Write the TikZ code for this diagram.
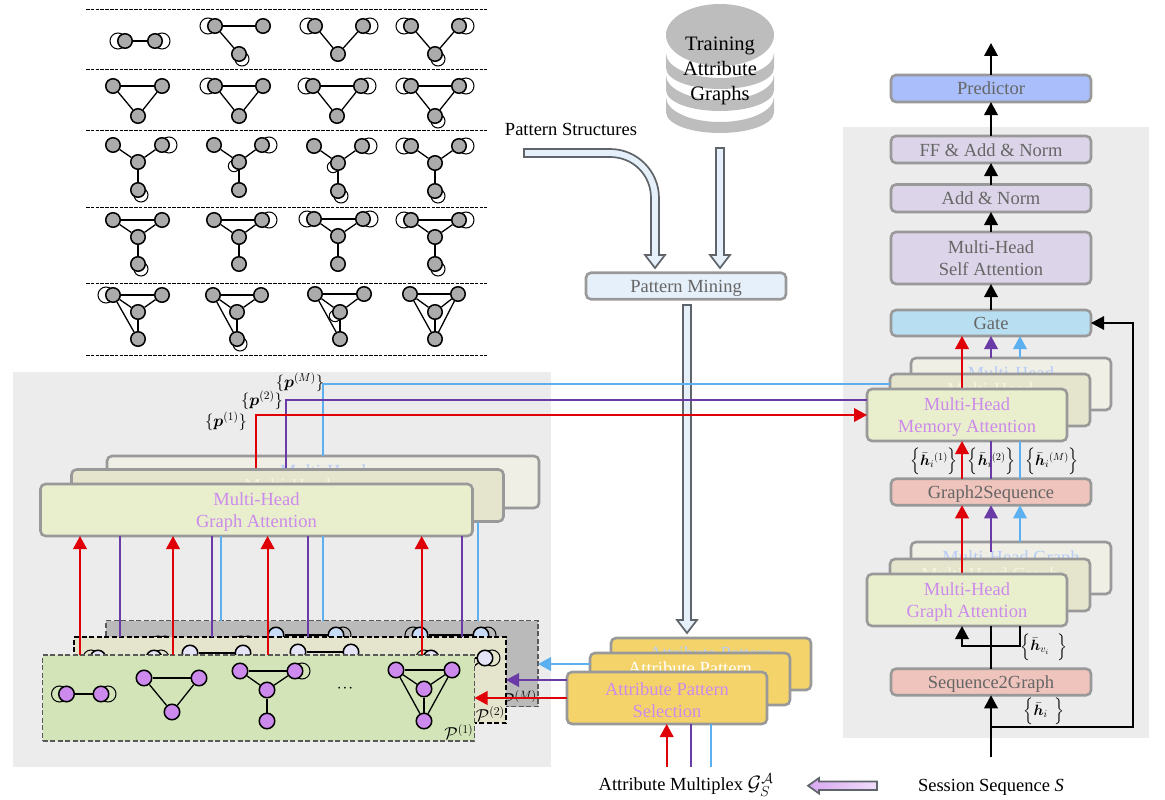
\documentclass[tikz,border=0pt]{standalone}
\usepackage{amsmath}
\usepackage{fontspec}
\setmainfont{Liberation Serif}
\usepackage{tikz}
\usetikzlibrary{arrows.meta, positioning, shapes.geometric}

\definecolor{bgGray}{HTML}{ECECEC}
\definecolor{boxGray}{HTML}{999999}
\definecolor{txtGray}{HTML}{666666}
\definecolor{fatGray}{HTML}{5E646A}
\definecolor{lineRed}{HTML}{E00008}
\definecolor{linePur}{HTML}{6A3AA6}
\definecolor{lineBlu}{HTML}{5CB0F0}
\definecolor{txtPur}{HTML}{CC8AEC}
\definecolor{txtPale}{HTML}{B8CCF6}
\definecolor{txtCream}{HTML}{F6F6E0}
\definecolor{fatFill}{HTML}{E6F0FA}
\definecolor{fillBack}{HTML}{EFEFE6}
\definecolor{fillMid}{HTML}{E5E4CC}
\definecolor{fillFront}{HTML}{E9EFCC}
\definecolor{fillAttr}{HTML}{F4D46A}
\definecolor{fillPink}{HTML}{EEC4BC}
\definecolor{fillLav}{HTML}{DCD4E8}
\definecolor{fillGate}{HTML}{B8DEF2}
\definecolor{fillPred}{HTML}{A9BEFA}
\definecolor{panGreen}{HTML}{D2E4B8}
\definecolor{patBlue}{HTML}{C8DCF8}
\definecolor{patLav}{HTML}{E4E4F6}

% one small pattern: name, node style, nodes, edges, self loops
\newcommand{\motif}[5]{%
    \foreach \n/\x/\y in {#3} \coordinate (#1\n) at (\x,\y);
    \foreach \n/\dx/\dy/\r in {#5} \draw[patloop] ([shift={(\dx,\dy)}]#1\n) circle (\r);
    \foreach \n/\x/\y in {#3} \node[#2] (#1\n) at (\x,\y) {};
    \foreach \s/\t in {#4} \draw[patedge] (#1\s) -- (#1\t);
}
% hollow arrow pointing down, between two named points
\newcommand{\fatdown}[2]{%
    \draw[fatline, fill=fatFill] ([xshift=-4pt]#1) -- ([xshift=-4pt,yshift=13pt]#2) -- ([xshift=-10pt,yshift=13pt]#2)
        -- (#2) -- ([xshift=10pt,yshift=13pt]#2) -- ([xshift=4pt,yshift=13pt]#2) -- ([xshift=4pt]#1) -- cycle;
}
% first line lowered a little, second line of a box whose lower half is covered
\newcommand{\topline}{\rule{0pt}{17pt}}
\newcommand{\coveredline}{\rule[-4pt]{0pt}{5pt}}

\begin{document}
\begin{tikzpicture}[
        x=1pt, y=-1pt,
        mainfont/.style={font=\fontsize{18.5}{22}\selectfont},
        box/.style={
            rectangle, rounded corners=5pt, draw=boxGray, line width=2.6pt, outer sep=0pt, inner sep=0pt,
            align=center, mainfont, text=txtGray
        },
        barbox/.style={box, minimum width=200pt, minimum height=26.5pt, text height=15pt, text depth=2pt},
        stackbox/.style={box, minimum width=200pt, minimum height=52pt},
        gatbox/.style={box, minimum width=432pt, minimum height=52pt},
        txtA/.style={text=txtPur},
        txtB/.style={text=txtCream},
        txtC/.style={text=txtPale},
        panel/.style={rectangle, draw=black!65, dash pattern=on 5pt off 2.5pt, line width=1.3pt, minimum width=432pt, minimum height=86pt, outer sep=0pt},
        patlabel/.style={font=\fontsize{17.28}{20}\selectfont, inner sep=1pt, anchor=south east},
        patnode/.style={circle, draw=black, line width=1.5pt, fill=black!33, minimum size=14.5pt, inner sep=0pt},
        patA/.style={patnode, fill=txtPur, minimum size=15.5pt},
        patB/.style={patnode, fill=patLav, minimum size=15.5pt},
        patC/.style={patnode, fill=patBlue, minimum size=15.5pt},
        patedge/.style={draw=black, line width=1.3pt},
        patloop/.style={draw=black, line width=1pt},
        sepline/.style={draw=black, dash pattern=on 3.5pt off 1.3pt, line width=1pt},
        fatline/.style={draw=fatGray, line width=1.7pt, line join=miter},
        tip/.style={-{Triangle[width=13.5pt,length=13pt]}},
        blackline/.style={draw=black, line width=2pt},
        redline/.style={draw=lineRed, line width=2.1pt},
        purline/.style={draw=linePur, line width=2pt},
        bluline/.style={draw=lineBlu, line width=2pt},
        plain/.style={mainfont, inner sep=0pt},
        mathlabel/.style={font=\fontsize{14.4}{16}\selectfont, inner sep=0pt, scale=1.15, transform shape},
        hlabel/.style={mathlabel, scale=0.9}
    ]
    \useasboundingbox (0,0) rectangle (1165,800);

    % Grey panels
    \fill[bgGray] (13,372) rectangle (551,767);
    \fill[bgGray] (843,127) rectangle (1149,738);

    % Pattern table
    \foreach \y in {10,70,130.5,207,283.5,355} \draw[sepline] (86,\y) -- (487,\y);

    \motif{mA}{patnode}{a/125/41,b/155/41}{a/b}{a/-7/0/8,b/7/0/8}
    \motif{mB}{patnode}{a/215/26,b/263/26,c/239/54}{a/b,a/c}{a/-7/0/8,c/3/5/7}
    \motif{mC}{patnode}{a/315/26,b/363/26,c/338/54}{a/c,b/c}{a/-7/0/8,b/7/0/8}
    \motif{mD}{patnode}{a/411/26,b/459/26,c/435/54}{a/c,b/c}{a/-7/0/8,b/7/0/8,c/3/5/7}

    \motif{mE}{patnode}{a/113/86,b/162/86,c/138/116}{a/b,a/c,b/c}{}
    \motif{mF}{patnode}{a/215/86,b/263/86,c/239/116}{a/b,a/c,b/c}{a/-7/0/8}
    \motif{mG}{patnode}{a/313/86,b/361/86,c/337/116}{a/b,a/c,b/c}{a/-7/0/8,b/7/0/8}
    \motif{mH}{patnode}{a/411/86,b/459/86,c/435/116}{a/b,a/c,b/c}{a/-7/0/8,b/7/0/8,c/3/5/7}

    \motif{mI}{patnode}{a/113/145,b/162/145,m/138/162,c/138/190}{a/m,b/m,m/c}{b/7/0/8,c/3/5/7}
    \motif{mJ}{patnode}{a/214/145,b/262/145,m/239/162,c/239/190}{a/m,b/m,m/c}{b/7/0/8,m/-5/4/5.7}
    \motif{mK}{patnode}{a/314/146,b/362/146,m/338/163,c/338/191}{a/m,b/m,m/c}{b/7/0/8,m/-5/4/5.7,c/3/5/7}
    \motif{mL}{patnode}{a/411/146,b/459/146,m/435/163,c/435/191}{a/m,b/m,m/c}{a/-7/0/8,b/7/0/8,c/3/5/7}

    \motif{mM}{patnode}{a/113/220,b/162/220,m/138/237,c/138/264}{a/b,a/m,b/m,m/c}{c/3/5/7}
    \motif{mN}{patnode}{a/214/220,b/262/220,m/239/237,c/239/264}{a/b,a/m,b/m,m/c}{b/7/0/8}
    \motif{mO}{patnode}{a/314/219,b/363/219,m/338/236,c/338/264}{a/b,a/m,b/m,m/c}{a/-7/0/8,b/7/0/8}
    \motif{mP}{patnode}{a/411/220,b/459/220,m/435/237,c/435/264}{a/b,a/m,b/m,m/c}{a/-7/0/8,b/7/0/8,c/3/5/7}

    \motif{mQ}{patnode}{a/113/295,b/162/295,m/138/312,c/138/339}{a/b,a/m,b/m,m/c,a/c}{a/-7/0/8}
    \motif{mR}{patnode}{a/213/295,b/261/295,m/237/312,c/237/339}{a/b,a/m,b/m,m/c,a/c}{c/3/5/7}
    \motif{mS}{patnode}{a/315/294,b/364/294,m/340/312,c/340/339}{a/b,a/m,b/m,m/c,a/c}{m/-5/4/5.7}
    \motif{mT}{patnode}{a/410/294,b/458/294,m/435/312,c/435/339}{a/b,a/m,b/m,m/c,a/c,b/c}{}

    % Training data and mining
    \foreach \dy in {0,22,44} {
        \fill[black!26] (666,53+\dy) -- (666,68+\dy) .. controls (666,80+\dy) and (690,89+\dy) .. (720,89+\dy)
            .. controls (750,89+\dy) and (774,80+\dy) .. (774,68+\dy) -- (774,53+\dy)
            .. controls (774,67+\dy) and (750,78+\dy) .. (720,78+\dy)
            .. controls (690,78+\dy) and (666,67+\dy) .. (666,53+\dy) -- cycle;
    }
    \node[ellipse, fill=black!26, minimum width=108pt, minimum height=62pt, inner sep=0pt] (dbtop) at (720,35) {};
    \node[plain, align=center, font=\fontsize{20.5}{25}\selectfont] (db) at (720,71) {Training\\Attribute\\Graphs};

    \node[plain] (patstr) at (571,129) {Pattern Structures};
    \node[barbox, fill=fatFill] (mine) at (686,286) {Pattern Mining};

    % Right column
    \node[barbox, fill=fillGate, minimum height=26pt] (gate) at (991,323) {Gate};
    \node[stackbox, fill=fillLav] (msa) [above=26pt of gate] {Multi-Head\\Self Attention};
    \node[barbox, fill=fillLav, minimum height=27.5pt] (addn) [above=20pt of msa] {Add \& Norm};
    \node[barbox, fill=fillLav, minimum height=27pt] (ffn) [above=21.5pt of addn] {FF \& Add \& Norm};
    \node[barbox, fill=fillPred, minimum height=27pt] (pred) [above=34pt of ffn] {Predictor};
    \coordinate (out) at (991,43);

    \draw[blackline, tip] (pred) -- (out);
    \draw[blackline, tip] (ffn) -- (pred);
    \draw[blackline, tip] (addn) -- (ffn);
    \draw[blackline, tip] (msa) -- (addn);
    \draw[blackline, tip] (gate) -- (msa);

    \node[barbox, fill=fillPink] (g2s) at (991,492) {Graph2Sequence};
    \node[barbox, fill=fillPink] (s2g) at (991,682) {Sequence2Graph};

    % Fat arrows
    \coordinate (fatA) at (720,148);
    \coordinate (fatB) at (720,268);
    \coordinate (fatC) at (687,305);
    \coordinate (fatD) at (687,633);
    \fatdown{fatA}{fatB}
    \fatdown{fatC}{fatD}
    \draw[fatline, fill=fatFill] (524,149) -- (610,149) .. controls (637,149) and (659,171) .. (659,198)
        -- (659,255) -- (665,255) -- (655,268) -- (645,255) -- (651,255) -- (651,198)
        .. controls (651,175) and (633,157) .. (610,157) -- (524,157) -- cycle;

    % Memory attention stack
    \node[stackbox, fill=fillBack, txtC] (memC) at (1011,384) {\topline Multi-Head\\\coveredline};
    \draw[bluline, tip] (memC.north -| 1020,0) -- (gate.south -| 1020,0);
    \draw[purline, tip] (memC.north -| 991,0) -- (gate.south -| 991,0);
    \node[stackbox, fill=fillMid, txtB] (memB) at (990,400) {\topline Multi-Head\\\coveredline};
    \coordinate (memR) at (962,389);
    \draw[redline, tip] (memR) -- (gate.south -| 962,0);
    \node[stackbox, fill=fillFront, txtA] (memA) at (967,415) {\topline Multi-Head\\Memory Attention};

    % Graph attention stack, right
    \node[stackbox, fill=fillBack, txtC] (graC) at (1011,568) {\topline Multi-Head Graph\\\coveredline};
    \draw[bluline, tip] (graC.north -| 1020,0) -- (g2s.south -| 1020,0);
    \coordinate (graP) at (991,552);
    \draw[purline, tip] (graP) -- (g2s.south -| 991,0);
    \node[stackbox, fill=fillMid, txtB] (graB) at (990,585) {\topline Multi-Head Graph\\\coveredline};
    \coordinate (graR) at (962,575);
    \draw[redline, tip] (graR) -- (g2s.south -| 962,0);
    \node[stackbox, fill=fillFront, txtA] (graA) at (967,600) {\topline Multi-Head\\Graph Attention};

    \draw[redline, tip] (g2s.north -| 962,0) -- (memA.south -| 962,0);
    \draw[purline] (g2s.north -| 991,0) -- (memA.south -| 991,0);
    \draw[bluline] (g2s.north -| 1020,0) -- (memA.south -| 1020,0);

    % Session input
    \coordinate (inS) at (991,757);
    \coordinate (brS) at (991,727);
    \draw[blackline, tip] (inS) -- (s2g);
    \draw[draw=black, line width=1.5pt, tip] (brS) -- ++(142,0) |- (gate.east);
    \draw[blackline] (s2g.north) -- (graA.south -| 991,0);
    \coordinate (brG) at (991,646);
    \draw[blackline, tip] (brG) -| (graA.south -| 962,0);
    \draw[blackline] (brG) -| (graA.south -| 1020,0);

    % Attribute pattern selection
    \node[stackbox, fill=fillAttr, txtC] (attC) at (711,664) {\topline Attribute Pattern\\\coveredline};
    \node[stackbox, fill=fillAttr, text=white] (attB) at (690,679) {\topline Attribute Pattern\\\coveredline};
    \node[stackbox, fill=fillAttr, txtA] (attA) at (667,698) {\topline Attribute Pattern\\Selection};

    \coordinate (inR) at (666.7,767);
    \coordinate (inP) at (690.7,767);
    \coordinate (inB) at (710.7,767);
    \draw[redline, tip] (inR) -- (attA.south -| 666.7,0);
    \draw[purline] (inP) -- (attA.south -| 690.7,0);
    \draw[bluline] (inB) -- (attA.south -| 710.7,0);

    % Stacked pattern sets
    \node[panel, fill=black!27] (panM) at (322,663.5) {};
    \motif{cA}{patC}{a/158/644,b/241/644}{a/b}{a/7/0/8,b/7/0/8}
    \motif{cB}{patC}{a/276/635,b/336/635}{a/b}{b/7/0/8}
    \motif{cC}{patC}{a/420/635,b/481/635}{a/b}{a/-7/0/8,b/7/0/8}
    \node[patlabel] (lblM) at (panM.south east) {$\mathcal{P}^{(M)}$};

    \node[panel, fill=fillMid, draw=black] (panB) at (290,680) {};
    \motif{bA}{patB}{a/98/658,b/154/658}{a/b}{a/-7/0/8,b/7/0/8}
    \motif{bB}{patB}{a/190/653,b/243/653}{a/b}{}
    \motif{bC}{patB}{a/298/652,b/351/652}{a/b}{}
    \motif{bD}{patB}{a/431/658,b/485/658,m/458/678}{a/b,b/m}{a/-7/0/8,b/7/0/8}
    \node[patlabel] (lblB) at (panB.south east) {$\mathcal{P}^{(2)}$};

    \node[panel, fill=panGreen] (panA) at (258.5,698) {};
    \motif{aA}{patA}{a/66.5/694,b/101/694}{a/b}{a/-7/0/8,b/7/0/8}
    \motif{aB}{patA}{a/144/678,b/199/678,c/172/712}{a/b,a/c,b/c}{}
    \motif{aC}{patA}{a/240/671,b/295/671,m/267/690,c/267/721}{a/b,a/m,b/m,m/c}{b/7/0/8}
    \node[plain] (dots) at (345,689) {$\cdot\!\cdot\!\cdot$};
    \motif{aD}{patA}{a/396/670,b/452/670,m/424/689,c/424/721}{a/b,a/m,b/m,m/c,a/c,b/c}{}
    \node[patlabel] (lblA) at (panA.south east) {$\mathcal{P}^{(1)}$};

    \draw[bluline, tip] (attB.west |- 590,664) -- (panM.east |- 538,664);
    \draw[purline, tip] (attA.west |- 567,680) -- (panB.east |- 506,680);
    \draw[redline, tip] (attA.west |- 567,698) -- (panA.east |- 474,698);

    % Graph attention stack, left
    \node[gatbox, fill=fillBack, txtC] (gatC) at (323,482) {\topline Multi-Head\\\coveredline};
    \draw[bluline] (gatC.north -| 323,0) |- ([yshift=16pt]memB.west);
    \coordinate (gatP) at (286.4,469);
    \coordinate (gatR) at (256.4,469);
    \draw[purline] (gatP) |- ([yshift=15pt]memA.west);
    \draw[redline, tip] (gatR) |- (memA.west);
    \node[gatbox, fill=fillMid, txtB] (gatB) at (287.5,495.5) {\topline Multi-Head\\\coveredline};
    \node[gatbox, fill=fillFront, txtA] (gatA) at (256.5,510) {\topline Multi-Head\\Graph Attention};

    \foreach \x in {80,173,267.6,421.7} \draw[redline, tip] (panA.north -| \x,0) -- (gatA.south -| \x,0);
    \foreach \x in {120,212,308,461.7} \draw[purline] (panB.north -| \x,0) -- (gatA.south -| \x,0);
    \foreach \x in {221,323} \draw[bluline] (panM.north -| \x,0) -- (gatA.south -| \x,0);
    \draw[bluline] (panM.north -| 477.6,0) -- (gatB.south -| 477.6,0);

    % Labels
    \node[mathlabel] (pOne) at (226,421.7) {$\{\boldsymbol{p}^{(1)}\}$};
    \node[mathlabel] (pTwo) at (262,400.7) {$\{\boldsymbol{p}^{(2)}\}$};
    \node[mathlabel] (pEm) at (300,382.7) {$\{\boldsymbol{p}^{(M)}\}$};
    \node[hlabel] (hOne) at (934,461.7) {$\Big\{\bar{\boldsymbol{h}}_i{}^{(1)}\Big\}$};
    \node[hlabel] (hTwo) at (991.7,461.7) {$\Big\{\bar{\boldsymbol{h}}_i{}^{(2)}\Big\}$};
    \node[hlabel] (hEm) at (1052,461.7) {$\Big\{\bar{\boldsymbol{h}}_i{}^{(M)}\Big\}$};
    \node[hlabel] (hVi) at (1044,647) {$\Big\{\bar{\boldsymbol{h}}_{v_i}\;\;\Big\}$};
    \node[hlabel] (hIn) at (1044,711.7) {$\Big\{\bar{\boldsymbol{h}}_i\;\,\Big\}$};

    \node[plain] (amx) at (686,785) {Attribute Multiplex {\fontsize{20.74}{24}\selectfont$\mathcal{G}_S^{\mathcal{A}}$}};
    \node[plain] (sess) at (991,787) {Session Sequence \textit{S}};
    \draw[fatline, left color=txtPur!75, right color=txtPur!30] (877,781.5) -- (819,781.5) -- (819,778) -- (808,785.7)
        -- (819,793.5) -- (819,790) -- (877,790) -- cycle;
\end{tikzpicture}
\end{document}
